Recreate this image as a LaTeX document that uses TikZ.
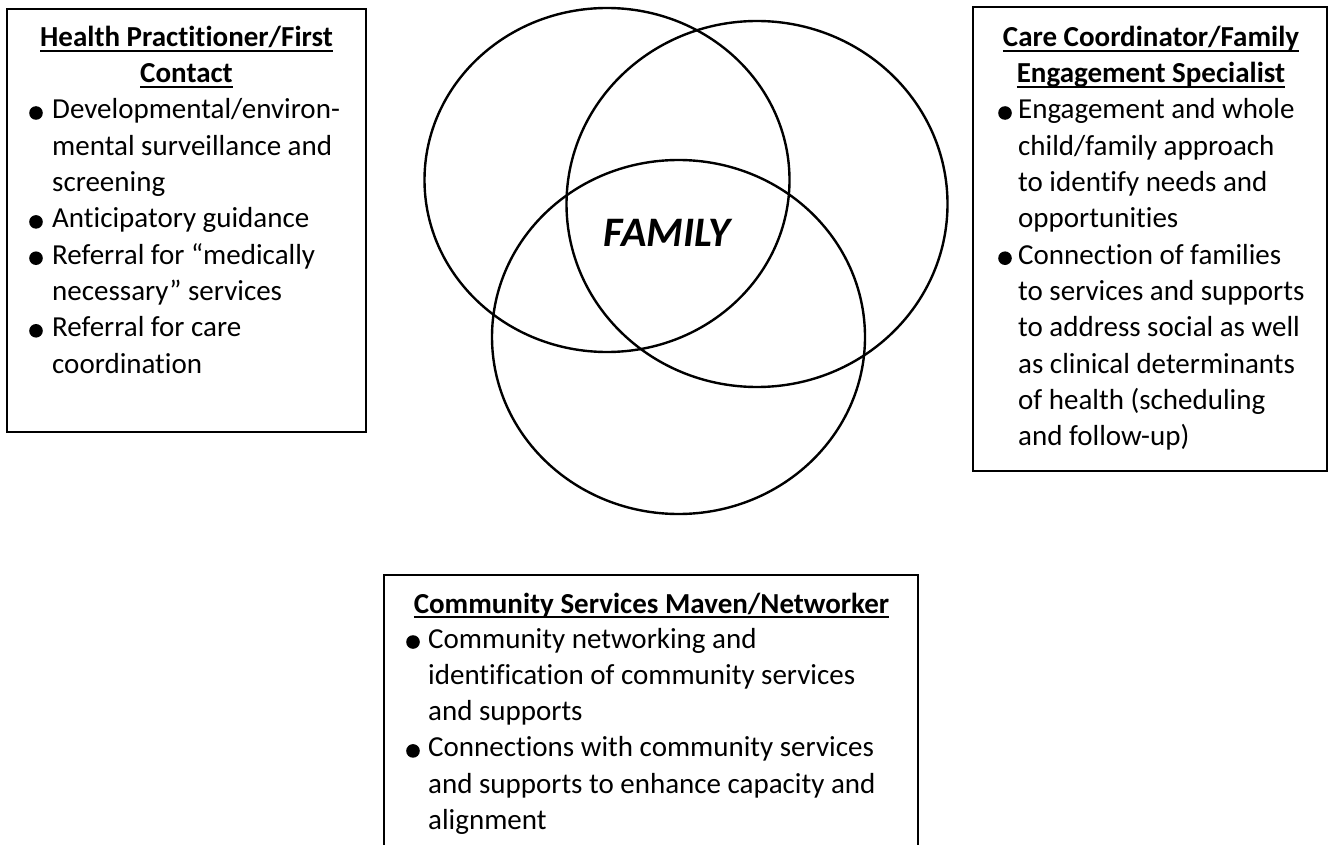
\documentclass[tikz,border=0pt]{standalone}
\usepackage{fontspec}
\setmainfont{Carlito}[Ligatures={NoCommon,NoRare}]
\usetikzlibrary{shapes.geometric}
\newcommand{\bodyfont}{\fontsize{29}{36.3}\selectfont}
\newcommand{\headfont}{\fontsize{29}{35.7}\selectfont\bfseries}
\newcommand{\ulin}[1]{\leavevmode\setbox0\hbox{#1}\rlap{\rule[-5pt]{\wd0}{1.7pt}}\box0}
\tikzset{
  frame/.style={draw, line width=1.8pt, inner sep=0pt, outer sep=0pt, anchor=north west},
  ring/.style={draw, ellipse, line width=2.4pt, inner sep=0pt, outer sep=0pt},
  head/.style={anchor=base, inner sep=0pt},
  body/.style={anchor=base west, inner sep=0pt},
  dot/.style={fill=black},
}
\begin{document}
\begin{tikzpicture}[x=1pt,y=-1pt]
\useasboundingbox[fill=white] (0,0) rectangle (1328,845);
\clip (0,0) rectangle (1328,845);

% circles
\node[ring, minimum width=365pt, minimum height=344pt] (c1) at (607,180) {};
\node[ring, minimum width=381pt, minimum height=366pt] (c2) at (757,204) {};
\node[ring, minimum width=373pt, minimum height=354pt] (c3) at (678.5,337) {};
\node[anchor=base, inner sep=0pt, font=\fontsize{42}{50}\selectfont\bfseries\itshape] (fam) at (667,247) {FAMILY};

% left box
\node[frame, minimum width=359pt, minimum height=423pt] (hp) at (7,9) {};
\node[head] (hpt) at (186.5,47) {\parbox[t]{340pt}{\centering\headfont\ulin{Health Practitioner/First}\\\ulin{Contact}}};
\node[body] (hpl) at (52,119) {\parbox[t]{310pt}{\raggedright\bodyfont Developmental/environ-\\mental surveillance and\\screening\\Anticipatory guidance\\Referral for “medically\\necessary” services\\Referral for care\\coordination}};
\foreach \y in {119,227.9,264.2,336.8} \fill[dot] (36,\y-6) circle (6.8);

% right box
\node[frame, minimum width=354pt, minimum height=464pt] (cc) at (973,7) {};
\node[head] (cct) at (1151,47) {\parbox[t]{340pt}{\centering\headfont\ulin{Care Coordinator/Family}\\\ulin{Engagement Specialist}}};
\node[body] (ccl) at (1018,119) {\parbox[t]{300pt}{\raggedright\bodyfont Engagement and whole\\child/family approach\\to identify needs and\\opportunities\\Connection of families\\to services and supports\\to address social as well\\as clinical determinants\\of health (scheduling\\and follow-up)}};
\foreach \y in {119,264.2} \fill[dot] (1005,\y-6) circle (6.8);

% bottom box
\node[frame, minimum width=534pt, minimum height=320pt] (cs) at (384,575) {};
\node[head] (cst) at (651.5,613) {\parbox[t]{520pt}{\centering\headfont\ulin{Community Services Maven/Networker}}};
\node[body] (csl) at (428,648) {\parbox[t]{480pt}{\raggedright\bodyfont Community networking and\\identification of community services\\and supports\\Connections with community services\\and supports to enhance capacity and\\alignment}};
\foreach \y in {648,756.9} \fill[dot] (413,\y-6) circle (6.8);
\end{tikzpicture}
\end{document}
